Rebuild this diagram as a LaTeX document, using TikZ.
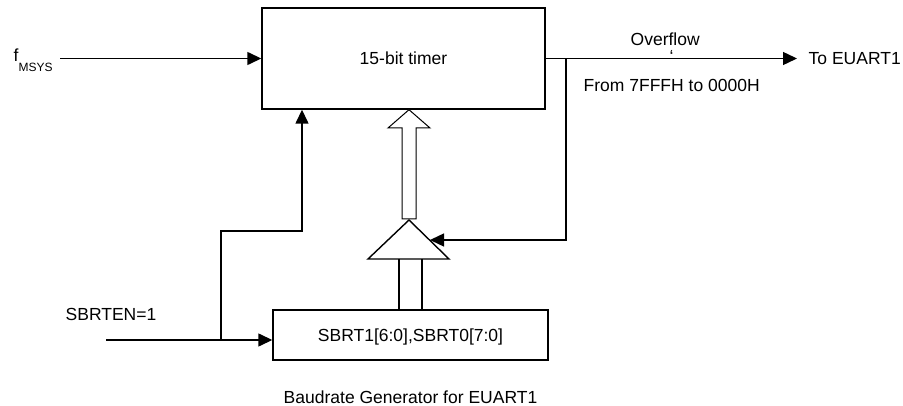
\documentclass[tikz,border=0pt]{standalone}
\usepackage{fontspec}
\setmainfont{Liberation Sans}
\usetikzlibrary{arrows.meta}
\begin{document}
\begin{tikzpicture}[x=1pt,y=-1pt,line width=1.4pt,
  txt/.style={font=\fontsize{17.5}{20}\selectfont},
  blockbox/.style={draw,inner sep=0pt,txt,text height=12.5pt,text depth=0pt},
  lbl/.style={inner sep=0pt,anchor=base west,txt},
  arr/.style={-{Triangle[length=14pt,width=13pt]}},
  hollow/.style={line width=1pt,fill=white}]
\useasboundingbox (0,0) rectangle (903,406);
% blocks
\node[blockbox,minimum width=283pt,minimum height=101pt] (timer) at (403.5,58.5) {15-bit timer};
\node[blockbox,minimum width=275pt,minimum height=50pt] (sbrt) at (410.5,335) {SBRT1[6:0],SBRT0[7:0]};
% labels
\node[lbl] (fmsys) at (13,62) {f\raisebox{-10pt}{\fontsize{12}{12}\selectfont MSYS}};
\node[lbl] (sbrten) at (65,320) {SBRTEN=1};
\node[lbl] (ovf) at (630,46) {Overflow};
\node[lbl] (tick) at (669,63) {\char"60};
\node[lbl] (toeuart) at (808,65) {To EUART1};
\node[lbl] (range) at (583,92) {From 7FFFH to 0000H};
\node[inner sep=0pt,anchor=base,txt] (title) at (410.5,403) {Baudrate Generator for EUART1};
% coordinates
\coordinate (fin) at (60,58.5);
\coordinate (sin) at (106,340);
\coordinate (j1) at (221,340);
\coordinate (up) at (302,231);
\coordinate (out) at (797,58.5);
\coordinate (j2) at (566,58.5);
\coordinate (fb) at (566,240);
\coordinate (tA) at (409,220);
\coordinate (tL) at (368,259);
\coordinate (tR) at (449,259);
\coordinate (tip) at (430,240);
\coordinate (busL) at (399,259);
\coordinate (busR) at (422,259);
\coordinate (hapex) at (409,0);
% connectors
\draw[arr] (fin) -- (timer.west);
\draw[arr] (sin) -- (sbrt.west |- sin);
\draw[arr] (j1) |- (up) -- (up |- timer.south);
\draw[arr] (timer.east) -- (out);
\draw[arr] (j2) -- (fb) -- (tip);
% selector triangle
\draw (tA) -- (tL) -- (tR) -- cycle;
% bus from register to triangle
\draw (busL) -- (busL |- sbrt.north);
\draw (busR) -- (busR |- sbrt.north);
% hollow arrow to timer
\draw[hollow] (402,219) -- (402,128) -- (388,128) -- (hapex |- timer.south) -- (430,128) -- (416,128) -- (416,219) -- cycle;
\end{tikzpicture}
\end{document}
